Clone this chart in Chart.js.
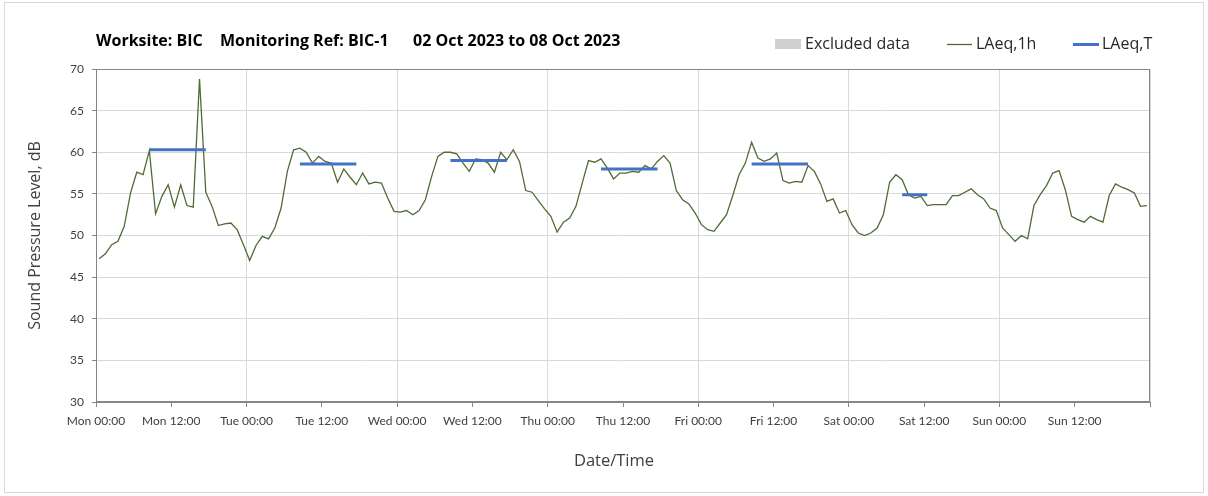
<!DOCTYPE html>
<html>
<head>
<meta charset="utf-8">
<script src="https://cdn.jsdelivr.net/npm/chart.js@4.4.1/dist/chart.umd.min.js"></script>
<style>
  html, body { margin: 0; padding: 0; background: #fff; }
  #wrap { position: relative; width: 1208px; height: 496px; }
  #frame { position: absolute; left: 4px; top: 2px; width: 1198px; height: 489px; border: 1px solid #d9d9d9; }
  canvas { position: absolute; left: 0; top: 0; }
</style>
</head>
<body>
<div id="wrap">
  <div id="frame"></div>
  <canvas id="noiseChart" width="1208" height="496"></canvas>
</div>
<script>
// day names for the x tick labels (hours from Mon 00:00)
const dayNames = ["Mon", "Tue", "Wed", "Thu", "Fri", "Sat", "Sun"];

// hourly LAeq,1h values, Mon 00:00 -> Sun 23:00
const laeq1h = [
  47.2, 47.8, 48.9, 49.3, 51.1, 55.1, 57.6, 57.3, 60.2, 52.6, 54.7, 56.1,
  53.4, 56.1, 53.6, 53.4, 68.8, 55.2, 53.5, 51.2, 51.4, 51.5, 50.7, 48.9,
  47.0, 48.8, 49.9, 49.6, 50.9, 53.3, 57.7, 60.3, 60.5, 60.0, 58.7, 59.5,
  58.9, 58.7, 56.4, 58.0, 57.0, 56.1, 57.5, 56.2, 56.4, 56.3, 54.5, 52.9,
  52.8, 53.0, 52.5, 53.0, 54.3, 57.1, 59.5, 60.0, 60.0, 59.8, 58.7, 57.7,
  59.2, 59.1, 58.7, 57.6, 60.0, 59.1, 60.3, 58.9, 55.4, 55.2, 54.2, 53.2,
  52.3, 50.4, 51.6, 52.1, 53.5, 56.3, 59.0, 58.8, 59.2, 58.1, 56.8, 57.5,
  57.5, 57.7, 57.6, 58.4, 58.0, 58.9, 59.6, 58.7, 55.4, 54.3, 53.8, 52.7,
  51.3, 50.7, 50.5, 51.5, 52.5, 54.8, 57.3, 58.7, 61.2, 59.3, 58.9, 59.2,
  59.9, 56.6, 56.3, 56.5, 56.4, 58.4, 57.7, 56.2, 54.1, 54.4, 52.7, 53.0,
  51.3, 50.3, 50.0, 50.3, 50.9, 52.5, 56.4, 57.3, 56.7, 54.9, 54.5, 54.7,
  53.6, 53.7, 53.7, 53.7, 54.8, 54.8, 55.2, 55.6, 54.9, 54.4, 53.3, 53.0,
  50.9, 50.1, 49.3, 50.0, 49.6, 53.6, 54.9, 56.0, 57.5, 57.8, 55.5, 52.3,
  51.9, 51.6, 52.3, 51.9, 51.6, 54.8, 56.2, 55.8, 55.5, 55.1, 53.5, 53.6
];

// LAeq,T over each monitoring period (hours from Mon 00:00)
const periodStart = [8.5, 32.5, 56.5, 80.5, 104.5, 128.5];
const periodEnd = [17.5, 41.5, 65.5, 89.5, 113.5, 132.5];
const laeqT = [60.3, 58.6, 59.0, 58.0, 58.6, 54.9];

const titleParts = ["Worksite: BIC", "Monitoring Ref: BIC-1", "02 Oct 2023 to 08 Oct 2023"];

const hourlyPoints = laeq1h.map((v, i) => ({ x: i + 0.5, y: v }));
const periodPoints = [];
laeqT.forEach((v, i) => {
  periodPoints.push({ x: periodStart[i], y: v });
  periodPoints.push({ x: periodEnd[i], y: v });
  periodPoints.push({ x: periodEnd[i], y: null });
});

const GREEN = "#4f6b35";
const BLUE = "#4472c4";
const AXIS = "#868686";

const headerPlugin = {
  id: "header",
  beforeDatasetsDraw(chart) {
    const { ctx, chartArea: a } = chart;
    ctx.save();
    ctx.strokeStyle = AXIS;
    ctx.lineWidth = 1;
    ctx.strokeRect(Math.round(a.left) + 0.5, Math.round(a.top) + 0.5,
      Math.round(a.right - a.left) - 1, Math.round(a.bottom - a.top) - 1);
    ctx.restore();
  },
  afterDraw(chart) {
    const { ctx, chartArea: a } = chart;
    ctx.save();
    ctx.textBaseline = "middle";
    // title
    ctx.fillStyle = "#000";
    ctx.font = "bold 16px 'Open Sans'";
    const tx = [a.left, 220, 413];
    titleParts.forEach((t, i) => ctx.fillText(t, tx[i], 41));
    // x axis title
    ctx.fillStyle = "#404040";
    ctx.font = "16.5px 'Open Sans'";
    ctx.textAlign = "center";
    ctx.fillText("Date/Time", 614, 461);
    ctx.textAlign = "left";
    // legend
    ctx.font = "16px 'Open Sans'";
    ctx.fillStyle = "#d0d0d0";
    ctx.fillRect(775, 39, 26, 10);
    ctx.fillStyle = "#262626";
    ctx.fillText("Excluded data", 805, 44);
    ctx.strokeStyle = GREEN;
    ctx.lineWidth = 1.3;
    ctx.beginPath(); ctx.moveTo(947, 44.5); ctx.lineTo(972, 44.5); ctx.stroke();
    ctx.fillText("LAeq,1h", 976, 44);
    ctx.strokeStyle = BLUE;
    ctx.lineWidth = 3;
    ctx.beginPath(); ctx.moveTo(1073, 44.5); ctx.lineTo(1099, 44.5); ctx.stroke();
    ctx.fillText("LAeq,T", 1102, 44);
    ctx.restore();
  }
};

const ctx = document.getElementById("noiseChart").getContext("2d");

const chart = new Chart(ctx, {
  type: "line",
  data: {
    datasets: [
      {
        label: "LAeq,T",
        data: periodPoints,
        borderColor: BLUE,
        borderWidth: 3,
        pointRadius: 0,
        spanGaps: false,
      },
      {
        label: "LAeq,1h",
        data: hourlyPoints,
        borderColor: GREEN,
        borderWidth: 1.3,
        pointRadius: 0,
        tension: 0,
      },
    ],
  },
  options: {
    responsive: false,
    devicePixelRatio: 1,
    animation: false,
    layout: { padding: { top: 69, right: 58, bottom: 0, left: 0 } },
    plugins: {
      legend: { display: false },
      title: { display: false },
      tooltip: { enabled: false },
    },
    scales: {
      x: {
        type: "linear",
        min: 0,
        max: 168,
        afterFit: (s) => { s.height = 94; },
        ticks: {
          stepSize: 12,
          autoSkip: false,
          maxRotation: 0,
          padding: 7,
          color: "#404040",
          font: { family: "Lato", size: 12 },
          callback: (v) => v >= 168 ? "" : dayNames[Math.floor(v / 24)] + (v % 24 ? " 12:00" : " 00:00"),
        },
        grid: {
          color: (c) => (c.tick && c.tick.value % 24 === 0) ? "#d9d9d9" : "rgba(0,0,0,0)",
          tickColor: AXIS,
          tickLength: 5,
        },
        border: { color: AXIS },
      },
      y: {
        min: 30,
        max: 70,
        afterFit: (s) => { s.width = 96; },
        ticks: {
          stepSize: 5,
          padding: 8,
          color: "#404040",
          font: { family: "Lato", size: 12 },
        },
        grid: { color: "#d9d9d9", tickColor: AXIS, tickLength: 4 },
        border: { color: AXIS },
        title: {
          display: true,
          text: "Sound Pressure Level, dB",
          color: "#404040",
          font: { family: "Open Sans", size: 16 },
          padding: { top: 26, bottom: 0 },
        },
      },
    },
  },
  plugins: [headerPlugin],
});
</script>
</body>
</html>
